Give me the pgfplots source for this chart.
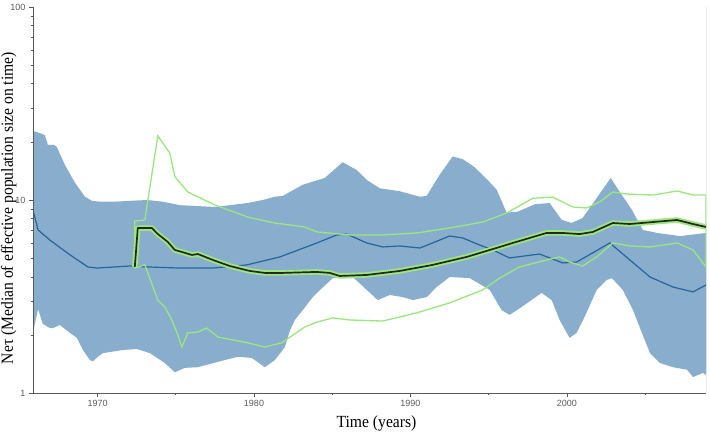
\documentclass[border=0pt]{standalone}
\usepackage{fontspec}
\setmainfont{Liberation Serif}
\newfontfamily\ticksf{Liberation Sans}
\newfontfamily\labfont[FakeStretch=0.92]{Liberation Serif}
\usepackage{pgfplots}
\usepackage{pgfplotstable}
\pgfplotsset{compat=1.18}
\usepgfplotslibrary{fillbetween}
\usetikzlibrary{calc}

\definecolor{bandblue}{RGB}{137,174,205}
\definecolor{medblue}{RGB}{38,100,156}
\definecolor{lgreen}{RGB}{155,230,125}
\definecolor{axgray}{RGB}{90,90,90}

% 95% HPD band, first analysis
\pgfplotstableread{
year val
1965.87 22.8
1966.31 22.2
1966.63 21.7
1966.82 19.3
1967.21 19.3
1967.40 18.8
1967.91 15.2
1968.55 12.3
1969.19 10.4
1969.64 9.9
1970.15 9.8
1971.11 9.8
1972.06 9.9
1973.15 10.0
1974.17 9.8
1975.26 9.4
1976.41 9.3
1977.50 9.2
1978.45 9.4
1979.60 9.65
1980.56 10.0
1981.33 10.4
1981.84 10.5
1983.12 12.0
1984.52 13.0
1985.67 15.7
1986.57 14.3
1987.21 12.7
1988.04 11.5
1989.32 11.1
1990.60 10.4
1991.04 10.5
1991.87 13.5
1992.70 16.8
1993.34 16.3
1994.10 14.8
1994.94 12.7
1995.52 11.3
1996.15 8.6
1996.86 8.7
1997.94 9.5
1998.90 9.65
1999.67 7.9
2000.31 7.6
2001.01 8.07
2001.91 10.24
2002.81 13.0
2003.39 11.0
2004.16 8.9
2004.86 7.0
2005.77 6.75
2007.24 6.5
2008.90 6.75
}\bandup
\pgfplotstableread{
year val
1965.87 2.05
1966.19 2.72
1966.50 2.28
1966.95 2.17
1967.14 2.17
1967.59 2.25
1968.23 2.05
1968.68 1.93
1969.06 1.67
1969.51 1.48
1969.70 1.46
1970.02 1.54
1970.34 1.61
1971.62 1.67
1972.51 1.69
1973.34 1.61
1974.30 1.43
1974.94 1.28
1975.58 1.35
1976.41 1.36
1977.69 1.45
1978.96 1.54
1979.86 1.52
1980.69 1.36
1981.33 1.48
1981.97 1.73
1982.29 2.10
1982.61 2.39
1983.12 2.69
1983.76 3.14
1984.02 3.30
1985.04 3.94
1986.31 3.99
1986.76 3.70
1987.21 3.42
1987.91 3.03
1988.68 3.22
1989.51 3.14
1990.15 3.03
1991.04 3.14
1991.68 3.54
1992.51 3.99
1993.79 3.94
1995.07 3.42
1995.83 2.69
1996.34 2.54
1997.11 2.79
1998.39 3.30
1999.03 3.03
1999.54 2.39
2000.18 1.93
2000.63 2.05
2001.14 2.48
2001.91 3.42
2002.55 3.85
2002.88 3.94
2003.58 3.42
2004.23 2.69
2004.80 2.05
2005.32 1.61
2005.96 1.43
2006.79 1.36
2007.69 1.32
2008.07 1.21
2008.71 1.27
2008.90 1.24
}\bandlo
\pgfplotstableread{
year val
1965.87 8.9
1966.19 7.0
1966.95 6.2
1968.23 5.2
1969.38 4.5
1969.96 4.44
1972.06 4.55
1973.15 4.5
1975.26 4.44
1977.37 4.44
1979.54 4.61
1981.65 5.07
1984.02 5.99
1985.29 6.59
1985.93 6.66
1987.21 5.99
1988.23 5.71
1989.32 5.78
1990.60 5.64
1991.42 5.99
1992.51 6.51
1993.34 6.36
1994.42 5.85
1995.26 5.51
1996.34 5.01
1998.26 5.25
1999.73 4.72
2000.63 4.77
2002.75 5.99
2004.03 4.89
2005.32 3.99
2006.79 3.54
2008.07 3.34
2008.90 3.63
}\medone
% second analysis
\pgfplotstableread{
year val
1972.38 4.44
1972.38 7.78
1973.02 7.88
1973.85 21.5
1974.62 17.5
1974.94 13.2
1975.77 11.0
1977.50 9.42
1979.60 8.16
1981.33 7.60
1983.25 7.25
1984.02 6.83
1986.12 6.59
1988.23 6.59
1990.40 6.75
1992.51 7.16
1994.62 7.69
1996.15 8.56
1997.82 10.2
1999.10 10.36
2000.38 9.2
2001.27 9.09
2002.10 9.76
2002.94 11.0
2003.84 10.74
2005.51 10.61
2007.05 11.14
2008.07 10.61
2008.90 10.61
2008.90 4.50
}\hpdup
\pgfplotstableread{
year val
1972.38 4.44
1973.02 4.61
1973.85 3.03
1974.30 2.79
1974.75 2.39
1975.13 2.00
1975.39 1.73
1975.77 2.05
1976.41 2.07
1976.98 2.17
1977.69 1.95
1979.60 1.82
1980.69 1.73
1981.78 1.82
1983.25 2.20
1984.02 2.33
1985.04 2.45
1986.12 2.39
1988.23 2.36
1990.40 2.60
1992.51 2.93
1994.62 3.42
1995.71 3.94
1996.98 4.50
1998.71 4.89
1999.54 5.07
2000.18 4.77
2001.01 4.55
2001.91 5.07
2002.94 5.99
2004.03 5.78
2005.32 5.71
2007.05 5.99
2008.07 5.51
2008.90 4.50
}\hpdlo
\pgfplotstableread{
year val
1972.38 4.50
1972.57 7.16
1973.47 7.16
1973.85 6.66
1974.17 6.36
1974.49 6.06
1974.94 5.51
1975.39 5.38
1976.03 5.19
1976.41 5.25
1977.37 4.89
1978.45 4.55
1979.73 4.29
1980.69 4.19
1981.84 4.19
1984.02 4.24
1984.84 4.19
1985.48 4.04
1987.21 4.09
1989.32 4.29
1991.42 4.61
1993.60 5.07
1995.71 5.71
1996.54 5.99
1998.71 6.75
1999.73 6.75
2000.82 6.66
2001.66 6.83
2002.94 7.60
2004.03 7.51
2005.51 7.69
2007.05 7.88
2008.07 7.51
2008.90 7.25
}\medtwo

\begin{document}
\begin{tikzpicture}
\begin{axis}[
  name=ax,
  scale only axis, width=673pt, height=386pt,
  xmin=1965.87, xmax=2008.9,
  ymode=log, ymin=1, ymax=100,
  axis x line*=bottom, axis y line*=left,
  axis line style={axgray, line width=0.8pt, -},
  axis on top,
  xtick={1970,1980,1990,2000}, xticklabels={1970,1980,1990,2000},
  minor xtick={1975,1985,1995,2005},
  ytick={1,10,100}, yticklabels={1,10,100},
  minor ytick={2,3,4,5,6,7,8,9,20,30,40,50,60,70,80,90},
  tick align=outside, major tick length=4pt, minor tick length=2.5pt,
  tick style={axgray, line width=0.6pt},
  every tick label/.append style={font=\ticksf\fontsize{9}{10}\selectfont, text=axgray},
  /pgf/number format/assume math mode=true,
  xlabel={Time (years)},
  ylabel={Neτ (Median of effective population size on time)},
  label style={font=\labfont\fontsize{17}{19}\selectfont},
  x label style={at={(axis description cs:0.5104,-0.0777)}, anchor=center},
  y label style={at={(axis description cs:-0.036,0.479)}, anchor=center},
]
\addplot[name path=up, draw=none] table[x=year, y=val] {\bandup};
\addplot[name path=lo, draw=none] table[x=year, y=val] {\bandlo};
\addplot[fill=bandblue, draw=none] fill between[of=up and lo];
\addplot[medblue, line width=1.2pt] table[x=year, y=val] {\medone};
\addplot[lgreen, line width=1.3pt] table[x=year, y=val] {\hpdup};
\addplot[lgreen, line width=1.3pt] table[x=year, y=val] {\hpdlo};
\addplot[lgreen, line width=5.5pt, line join=round] table[x=year, y=val] {\medtwo};
\addplot[black!85, line width=1.7pt, line join=round] table[x=year, y=val] {\medtwo};
\draw[axgray, line width=0.8pt] (rel axis cs:1,0) -- (rel axis cs:1,1);
\end{axis}
\pgfresetboundingbox
\path[use as bounding box] ($(ax.south west)+(-33pt,-44pt)$) rectangle ($(ax.north east)+(4pt,7pt)$);
\end{tikzpicture}
\end{document}
